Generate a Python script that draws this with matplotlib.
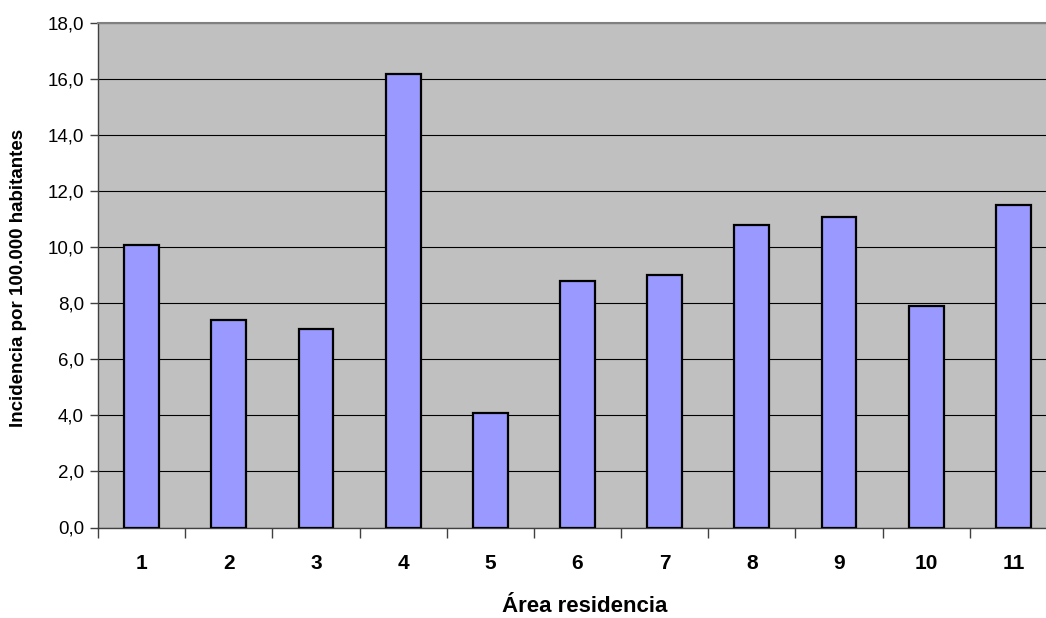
import matplotlib
matplotlib.use("Agg")
import matplotlib.pyplot as plt
import numpy as np

categories = ["1", "2", "3", "4", "5", "6", "7", "8", "9", "10", "11"]
values = [10.1, 7.4, 7.1, 16.2, 4.1, 8.8, 9.0, 10.8, 11.1, 7.9, 11.5]
yticks = [0, 2, 4, 6, 8, 10, 12, 14, 16, 18]

plt.rcParams['font.family'] = ['Liberation Sans', 'DejaVu Sans']

W, H = 1046, 618
fig = plt.figure(figsize=(W / 100, H / 100), dpi=100)
left, right, top, bottom = 98, 1057, 23.3, 527.5
ax = fig.add_axes([left / W, 1 - bottom / H, (right - left) / W, (bottom - top) / H])
ax.set_facecolor('#C0C0C0')

x = np.arange(len(categories))
ax.bar(x, values, width=0.4, color='#9999FF', edgecolor='black', linewidth=1.6, zorder=3)

ax.set_xlim(-0.5, len(categories) - 0.5)
ax.set_ylim(0, 18)
ax.set_yticks(yticks)
ax.set_yticklabels([f"{v:.1f}".replace('.', ',') for v in yticks], fontsize=13.5)
ax.yaxis.grid(True, color='black', linewidth=0.8, zorder=1)
ax.set_axisbelow(True)

ax.set_xticks(np.arange(len(categories) + 1) - 0.5)
ax.set_xticklabels([])
ax.set_xticks(x, minor=True)
ax.set_xticklabels(categories, minor=True, fontsize=15, fontweight='bold')
ax.tick_params(axis='x', which='minor', length=0, pad=19)
ax.tick_params(axis='x', which='major', length=7, width=1, color='#404040', direction='out')
ax.tick_params(axis='y', length=6, width=1, color='#404040', direction='out', pad=4)

for s in ['left', 'bottom']:
    ax.spines[s].set_color('#404040')
    ax.spines[s].set_linewidth(1)
ax.spines['top'].set_color('#808080')
ax.spines['top'].set_linewidth(1.5)
ax.spines['right'].set_visible(False)

fig.text(19 / W, 1 - 278 / H, 'Incidencia por 100.000 habitantes', fontsize=13.5,
         fontweight='bold', rotation=90, ha='center', va='center')
fig.text(585 / W, 1 - 612 / H, 'Área residencia', fontsize=16, fontweight='bold',
         ha='center', va='baseline')

fig.savefig('out.png', dpi=100)
